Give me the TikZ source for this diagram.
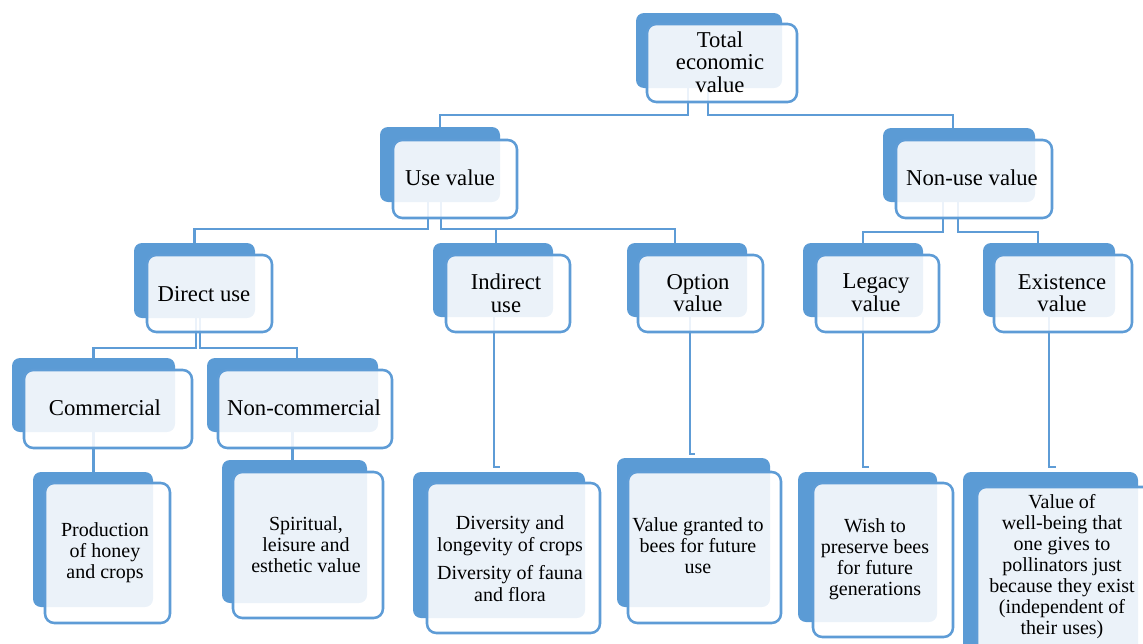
\documentclass[tikz,border=0pt]{standalone}
\usepackage{fontspec}
\setmainfont{Liberation Serif}
\usetikzlibrary{calc}
\definecolor{bkblue}{HTML}{5B9BD5}
\definecolor{lnblue}{HTML}{5E9CD6}
\newcommand\mkback[5]{\node[backbox, minimum width={(#4-#2)*0.75pt}, minimum height={(#5-#3)*0.75pt}] (#1) at ({(#2+#4)/2},{(#3+#5)/2}) {};}
\newcommand\mkfront[5]{\node[frontbox, minimum width={(#4-#2)*0.75pt}, minimum height={(#5-#3)*0.75pt}] (#1) at ({(#2+#4)/2},{(#3+#5)/2}) {};}
\begin{document}
\begin{tikzpicture}[x=0.75pt,y=-0.75pt,
  backbox/.style={fill=bkblue, rounded corners=6pt, inner sep=0pt, outer sep=0pt},
  frontbox/.style={draw=lnblue, line width=1.9pt, fill=white, fill opacity=0.88, rounded corners=7pt, inner sep=0pt, outer sep=0pt},
  conn/.style={draw=lnblue, line width=1.7pt},
  big/.style={font=\rmfamily\fontsize{17}{17}\selectfont, align=center, inner sep=0pt, text=black},
  small/.style={font=\rmfamily\fontsize{15}{15.75}\selectfont, align=center, inner sep=0pt, text=black}]
\useasboundingbox (0,0) rectangle (1143,643);
\clip (0,0) rectangle (1143,643);
% back boxes
\mkback{tevb}{636}{13}{782}{88}
\mkback{useb}{380}{127}{500}{202}
\mkback{nonb}{883}{128}{1035}{202}
\mkback{dirb}{134}{243}{255}{318}
\mkback{indb}{433}{243}{553}{317}
\mkback{optb}{627}{243}{747}{317}
\mkback{legb}{803}{243}{923}{317}
\mkback{exib}{983}{243}{1115}{317}
\mkback{comb}{12}{358}{175}{432}
\mkback{ncb}{207}{358}{378}{432}
\mkback{prodb}{33}{472}{153}{607}
\mkback{spib}{222}{460}{367}{603}
\mkback{divb}{413}{472}{585}{618}
\mkback{optcb}{617}{458}{770}{607}
\mkback{legcb}{798}{472}{937}{622}
\mkback{excb}{963}{472}{1138}{660}
% connectors
\draw[conn] ($(tevb.south)+(-21,0)$) -- ++(0,27) -| (useb.north);
\draw[conn] ($(tevb.south)+(-1,0)$) -- ++(0,27) -| ($(nonb.north)+(-6,0)$);
\draw[conn] ($(useb.south)+(-12,0)$) -- ++(0,27) -| (dirb.north);
\draw[conn] ($(useb.south)+(1,0)$) -- ++(0,27) -| ($(indb.north)+(3,0)$);
\draw[conn] ($(useb.south)+(1,0)$) -- ++(0,27) -| ($(optb.north)+(-12,0)$);
\draw[conn] ($(nonb.south)+(-16,0)$) -- ++(0,30) -| (legb.north);
\draw[conn] ($(nonb.south)+(-1,0)$) -- ++(0,30) -| ($(exib.north)+(-11,0)$);
\draw[conn] ($(dirb.south)+(1.5,0)$) -- ++(0,30) -| (comb.north);
\draw[conn] ($(dirb.south)+(5.5,0)$) -- ++(0,30) -| ($(ncb.north)+(4.5,0)$);
\draw[conn] (comb.south) -- (comb.south |- prodb.north);
\draw[conn] (ncb.south) -- (ncb.south |- spib.north);
\draw[conn] ($(indb.south)+(1,0)$) |- ($(divb.north)+(1,-5)$);
\draw[conn] ($(optb.south)+(3,0)$) |- ($(optcb.north)+(1,-4)$);
\draw[conn] (legb.south) |- ($(legcb.north)+(1,-5)$);
\draw[conn] (exib.south) |- ($(excb.north)+(5,-5)$);
% front boxes
\mkfront{tevf}{647}{24}{797}{102}
\mkfront{usef}{393}{140}{517}{218}
\mkfront{nonf}{896}{140}{1052}{218}
\mkfront{dirf}{147}{255}{272}{332}
\mkfront{indf}{446}{255}{570}{332}
\mkfront{optf}{638}{255}{763}{332}
\mkfront{legf}{816}{255}{939}{332}
\mkfront{exif}{994}{255}{1132}{332}
\mkfront{comf}{24}{370}{192}{448}
\mkfront{ncf}{218}{370}{392}{448}
\mkfront{prodf}{45}{483}{170}{623}
\mkfront{spif}{233}{472}{383}{618}
\mkfront{divf}{427}{483}{600}{633}
\mkfront{optcf}{628}{472}{781}{623}
\mkfront{legcf}{813}{483}{953}{637}
\mkfront{excf}{977}{487}{1160}{670}
% texts
\node[big] (tevt) at (720,62) {Total\\economic\\value};
\node[big] (uset) at (450,178) {Use value};
\node[big] (nont) at (972,178) {Non-use value};
\node[big] (dirt) at (204,294) {Direct use};
\node[big] (indt) at (506,293) {Indirect\\use};
\node[big] (optt) at (698,293) {Option\\value};
\node[big] (legt) at (876,293) {Legacy\\value};
\node[big] (exit) at (1062,293) {Existence\\value};
\node[big] (comt) at (105,408) {Commercial};
\node[big] (nct) at (304,408) {Non-commercial};
\node[small] (prodt) at (105,553) {Production\\of honey\\and crops};
\node[small] (spit) at (306,545) {Spiritual,\\leisure and\\esthetic value};
\node[small, font=\rmfamily\fontsize{15}{16.5}\selectfont] (divt) at (510,559) {Diversity and\\longevity of crops\\[4.5pt]Diversity of fauna\\and flora};
\node[small] (optct) at (698,546) {Value granted to\\bees for future\\use};
\node[small] (legct) at (875,559) {Wish to\\preserve bees\\for future\\generations};
\node[small] (exct) at (1062,567) {Value of\\well-being that\\one gives to\\pollinators just\\because they exist\\(independent of\\their uses)};
\end{tikzpicture}
\end{document}
